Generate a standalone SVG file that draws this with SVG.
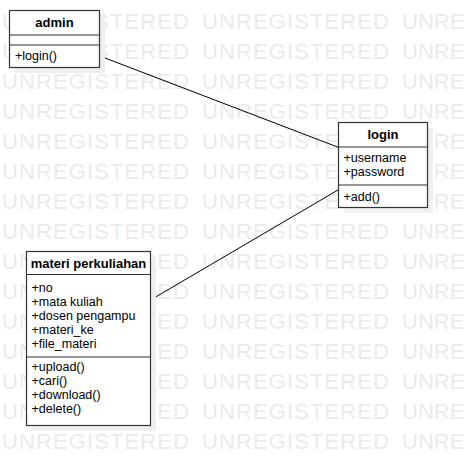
<svg xmlns="http://www.w3.org/2000/svg" width="467" height="465" viewBox="0 0 467 465">
<style>
.wm{font-family:"Liberation Sans",Arial,sans-serif;font-size:22px;fill:#ebebeb}
.box{fill:#fff;stroke:#333;stroke-width:1.2}
.sh{fill:#efefef}
.sep{stroke:#333;stroke-width:1.2}
.t{font-family:"Liberation Sans",Arial,sans-serif;font-size:13px;font-weight:bold;fill:#000;text-anchor:middle}
.a{font-family:"Liberation Sans",Arial,sans-serif;font-size:12.5px;fill:#000}
.c{stroke:#000;stroke-width:1;fill:none}
</style>
<rect width="467" height="465" fill="#fff"/>
<g id="watermark">
<text class="wm" x="2" y="29" textLength="187" lengthAdjust="spacing">UNREGISTERED</text><text class="wm" x="202" y="29" textLength="187" lengthAdjust="spacing">UNREGISTERED</text><text class="wm" x="402" y="29">UNRE</text>
<text class="wm" x="2" y="59" textLength="187" lengthAdjust="spacing">UNREGISTERED</text><text class="wm" x="202" y="59" textLength="187" lengthAdjust="spacing">UNREGISTERED</text><text class="wm" x="402" y="59">UNRE</text>
<text class="wm" x="2" y="89" textLength="187" lengthAdjust="spacing">UNREGISTERED</text><text class="wm" x="202" y="89" textLength="187" lengthAdjust="spacing">UNREGISTERED</text><text class="wm" x="402" y="89">UNRE</text>
<text class="wm" x="2" y="119" textLength="187" lengthAdjust="spacing">UNREGISTERED</text><text class="wm" x="202" y="119" textLength="187" lengthAdjust="spacing">UNREGISTERED</text><text class="wm" x="402" y="119">UNRE</text>
<text class="wm" x="2" y="149" textLength="187" lengthAdjust="spacing">UNREGISTERED</text><text class="wm" x="202" y="149" textLength="187" lengthAdjust="spacing">UNREGISTERED</text><text class="wm" x="402" y="149">UNRE</text>
<text class="wm" x="2" y="179" textLength="187" lengthAdjust="spacing">UNREGISTERED</text><text class="wm" x="202" y="179" textLength="187" lengthAdjust="spacing">UNREGISTERED</text><text class="wm" x="402" y="179">UNRE</text>
<text class="wm" x="2" y="209" textLength="187" lengthAdjust="spacing">UNREGISTERED</text><text class="wm" x="202" y="209" textLength="187" lengthAdjust="spacing">UNREGISTERED</text><text class="wm" x="402" y="209">UNRE</text>
<text class="wm" x="2" y="239" textLength="187" lengthAdjust="spacing">UNREGISTERED</text><text class="wm" x="202" y="239" textLength="187" lengthAdjust="spacing">UNREGISTERED</text><text class="wm" x="402" y="239">UNRE</text>
<text class="wm" x="2" y="269" textLength="187" lengthAdjust="spacing">UNREGISTERED</text><text class="wm" x="202" y="269" textLength="187" lengthAdjust="spacing">UNREGISTERED</text><text class="wm" x="402" y="269">UNRE</text>
<text class="wm" x="2" y="299" textLength="187" lengthAdjust="spacing">UNREGISTERED</text><text class="wm" x="202" y="299" textLength="187" lengthAdjust="spacing">UNREGISTERED</text><text class="wm" x="402" y="299">UNRE</text>
<text class="wm" x="2" y="329" textLength="187" lengthAdjust="spacing">UNREGISTERED</text><text class="wm" x="202" y="329" textLength="187" lengthAdjust="spacing">UNREGISTERED</text><text class="wm" x="402" y="329">UNRE</text>
<text class="wm" x="2" y="359" textLength="187" lengthAdjust="spacing">UNREGISTERED</text><text class="wm" x="202" y="359" textLength="187" lengthAdjust="spacing">UNREGISTERED</text><text class="wm" x="402" y="359">UNRE</text>
<text class="wm" x="2" y="389" textLength="187" lengthAdjust="spacing">UNREGISTERED</text><text class="wm" x="202" y="389" textLength="187" lengthAdjust="spacing">UNREGISTERED</text><text class="wm" x="402" y="389">UNRE</text>
<text class="wm" x="2" y="419" textLength="187" lengthAdjust="spacing">UNREGISTERED</text><text class="wm" x="202" y="419" textLength="187" lengthAdjust="spacing">UNREGISTERED</text><text class="wm" x="402" y="419">UNRE</text>
<text class="wm" x="2" y="449" textLength="187" lengthAdjust="spacing">UNREGISTERED</text><text class="wm" x="202" y="449" textLength="187" lengthAdjust="spacing">UNREGISTERED</text><text class="wm" x="402" y="449">UNRE</text>
</g>
<g id="connectors">
<line class="c" x1="99" y1="55.7" x2="338" y2="147.2"/>
<line class="c" x1="150" y1="300.3" x2="338" y2="190"/>
</g>
<g id="admin">
<rect class="sh" x="15" y="16" width="90" height="57"/>
<rect class="box" x="9.5" y="10.5" width="90" height="57"/>
<line class="sep" x1="9.5" y1="35" x2="99.5" y2="35"/>
<line class="sep" x1="9.5" y1="45" x2="99.5" y2="45"/>
<text class="t" x="54.5" y="27">admin</text>
<text class="a" x="15" y="60">+login()</text>
</g>
<g id="login">
<rect class="sh" x="344" y="128" width="89" height="85"/>
<rect class="box" x="338.5" y="122.5" width="89" height="85"/>
<line class="sep" x1="338.5" y1="147" x2="427.5" y2="147"/>
<line class="sep" x1="338.5" y1="185" x2="427.5" y2="185"/>
<text class="t" x="383" y="139">login</text>
<text class="a" x="343.5" y="162">+username</text>
<text class="a" x="343.5" y="176">+password</text>
<text class="a" x="343.5" y="200.5">+add()</text>
</g>
<g id="materi">
<rect class="sh" x="32" y="257" width="124" height="174"/>
<rect class="box" x="26.5" y="251.5" width="124" height="174"/>
<line class="sep" x1="26.5" y1="274.5" x2="150.5" y2="274.5"/>
<line class="sep" x1="26.5" y1="357" x2="150.5" y2="357"/>
<text class="t" x="88.5" y="268">materi perkuliahan</text>
<text class="a" x="31.5" y="292">+no</text>
<text class="a" x="31.5" y="306">+mata kuliah</text>
<text class="a" x="31.5" y="320">+dosen pengampu</text>
<text class="a" x="31.5" y="334">+materi_ke</text>
<text class="a" x="31.5" y="348">+file_materi</text>
<text class="a" x="31.5" y="371">+upload()</text>
<text class="a" x="31.5" y="385">+cari()</text>
<text class="a" x="31.5" y="399">+download()</text>
<text class="a" x="31.5" y="413">+delete()</text>
</g>
</svg>
